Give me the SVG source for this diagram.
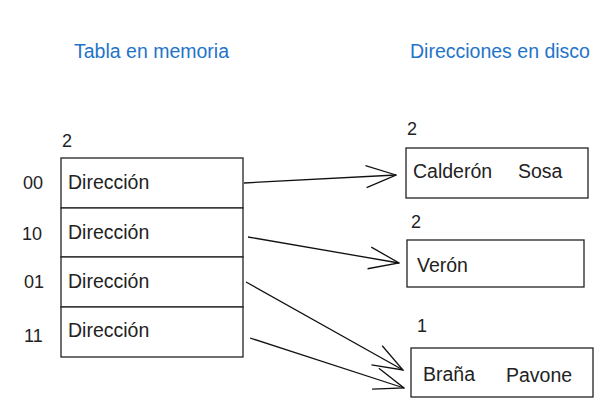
<svg xmlns="http://www.w3.org/2000/svg" width="609" height="413" viewBox="0 0 609 413">
<style>
.title{font-family:"Liberation Sans",Arial,sans-serif;font-size:19.5px;fill:#1f74c9}
.lbl{font-family:"Liberation Sans",Arial,sans-serif;font-size:19.5px;fill:#222}
.num{font-family:"Liberation Sans",Arial,sans-serif;font-size:18px;fill:#222}
.box{fill:#fff;stroke:#222;stroke-width:1.3}
.conn{fill:none;stroke:#111;stroke-width:1.3}
</style>
<defs>
<marker id="arr" markerUnits="userSpaceOnUse" viewBox="0 0 32 24" refX="31" refY="12" markerWidth="32" markerHeight="24" orient="auto">
<path d="M1,1 L31,12 L1,23" fill="none" stroke="#111" stroke-width="1.3"/>
</marker>
</defs>
<rect width="609" height="413" fill="#fff"/>
<text class="title" x="74" y="58">Tabla en memoria</text>
<text class="title" x="410" y="58">Direcciones en disco</text>
<g id="tabla">
<text class="num" x="62" y="147">2</text>
<rect class="box" x="61" y="158" width="182" height="50"/>
<rect class="box" x="61" y="208" width="182" height="49"/>
<rect class="box" x="61" y="257" width="182" height="50"/>
<rect class="box" x="61" y="307" width="182" height="50"/>
<text class="num" x="23" y="189">00</text>
<text class="num" x="22" y="240">10</text>
<text class="num" x="24" y="288">01</text>
<text class="num" x="24" y="342">11</text>
<text class="lbl" x="68" y="189">Dirección</text>
<text class="lbl" x="68" y="239">Dirección</text>
<text class="lbl" x="68" y="288">Dirección</text>
<text class="lbl" x="68" y="337">Dirección</text>
</g>
<g id="bucket1">
<text class="num" x="407" y="135">2</text>
<rect class="box" x="406" y="148" width="182" height="50"/>
<text class="lbl" x="413" y="178">Calderón</text>
<text class="lbl" x="518" y="178">Sosa</text>
</g>
<g id="bucket2">
<text class="num" x="411" y="228">2</text>
<rect class="box" x="407" y="240" width="177" height="47"/>
<text class="lbl" x="417" y="272">Verón</text>
</g>
<g id="bucket3">
<text class="num" x="417" y="332">1</text>
<rect class="box" x="411" y="348" width="182" height="49"/>
<text class="lbl" x="423" y="381">Braña</text>
<text class="lbl" x="506" y="382">Pavone</text>
</g>
<g id="connectors">
<line class="conn" x1="244" y1="183" x2="396" y2="175" marker-end="url(#arr)"/>
<line class="conn" x1="248" y1="237" x2="399" y2="263" marker-end="url(#arr)"/>
<line class="conn" x1="246" y1="282" x2="403" y2="370" marker-end="url(#arr)"/>
<line class="conn" x1="250" y1="338" x2="404" y2="388" marker-end="url(#arr)"/>
</g>
</svg>
